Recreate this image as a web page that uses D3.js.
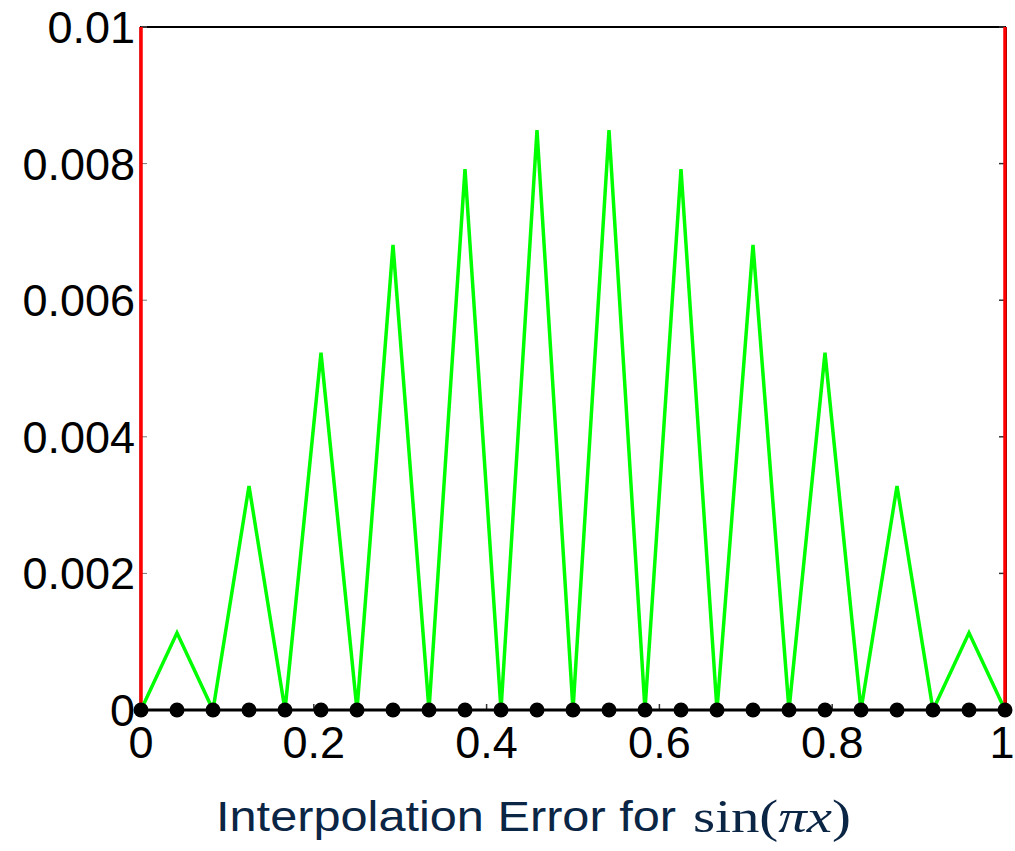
<!DOCTYPE html>
<html>
<head>
<meta charset="utf-8">
<script src="https://cdn.jsdelivr.net/npm/d3@7"></script>
<style>
  body { margin: 0; background: #fff; }
  svg { display: block; }
</style>
</head>
<body>
<script>
// nodes at k/24, error of piecewise interpolation (green), black nodes on zero line
let nodeX = d3.range(25).map((k) => k / 24);
let greenY = [0, 0.00113, 0, 0.00328, 0, 0.00523, 0, 0.00681, 0, 0.00792, 0, 0.00849, 0,
              0.00849, 0, 0.00792, 0, 0.00681, 0, 0.00523, 0, 0.00328, 0, 0.00113, 0];
// the red curve blows up right at the ends
let redX = [0, 0.0004, 0.9996, 1];
let redY = [0, 1, 1, 0];
let xTicks = [0, 0.2, 0.4, 0.6, 0.8, 1];
let xTickLabels = ["0", "0.2", "0.4", "0.6", "0.8", "1"];
let yTicks = [0, 0.002, 0.004, 0.006, 0.008, 0.01];
let yTickLabels = ["0", "0.002", "0.004", "0.006", "0.008", "0.01"];

let svg = d3.select('body').append('svg')
  .attr('width', 1015)
  .attr('height', 851);

let x = d3.scaleLinear().domain([0, 1]).range([141, 1005]);
let y = d3.scaleLinear().domain([0, 0.01]).range([710, 27]);

svg.append('clipPath').attr('id', 'plotclip')
  .append('rect')
    .attr('x', x(0) - 3).attr('y', y(0.01))
    .attr('width', x(1) - x(0) + 6).attr('height', y(0) - y(0.01) + 4);

// axes frame
svg.append('line')
  .attr('x1', x(0) - 1).attr('x2', x(0) - 1)
  .attr('y1', y(0.01)).attr('y2', y(0))
  .attr('stroke', '#777').attr('stroke-width', 1.5);
svg.append('line')
  .attr('x1', x(0) - 1).attr('x2', x(1) + 1)
  .attr('y1', y(0.01)).attr('y2', y(0.01))
  .attr('stroke', '#000').attr('stroke-width', 2);
svg.append('line')
  .attr('x1', x(1) + 1).attr('x2', x(1) + 1)
  .attr('y1', y(0.01)).attr('y2', y(0))
  .attr('stroke', '#000').attr('stroke-width', 2);

// inner ticks
svg.selectAll('.ytickr').data(yTicks).enter().append('line')
  .attr('x1', x(1) - 6).attr('x2', x(1))
  .attr('y1', (d) => y(d)).attr('y2', (d) => y(d))
  .attr('stroke', '#333').attr('stroke-width', 1.5);
svg.selectAll('.ytickl').data(yTicks).enter().append('line')
  .attr('x1', x(0)).attr('x2', x(0) + 6)
  .attr('y1', (d) => y(d)).attr('y2', (d) => y(d))
  .attr('stroke', '#777').attr('stroke-width', 1);
svg.selectAll('.xtick').data(xTicks).enter().append('line')
  .attr('x1', (d) => x(d)).attr('x2', (d) => x(d))
  .attr('y1', y(0) - 6).attr('y2', y(0))
  .attr('stroke', '#333').attr('stroke-width', 1.5);

// tick labels
svg.selectAll('.ylab').data(yTicks).enter().append('text')
  .attr('x', 135)
  .attr('y', (d) => y(d) + 16)
  .attr('text-anchor', 'end')
  .style('font-family', 'Liberation Sans, Arial, sans-serif')
  .style('font-size', '45px')
  .text((d, i) => yTickLabels[i]);
svg.selectAll('.xlab').data(xTicks).enter().append('text')
  .attr('x', (d) => Math.min(x(d), 1002))
  .attr('y', 758)
  .attr('text-anchor', 'middle')
  .style('font-family', 'Liberation Sans, Arial, sans-serif')
  .style('font-size', '45px')
  .text((d, i) => xTickLabels[i]);

// zero line through the nodes
let line = d3.line().x((d) => x(d[0])).y((d) => y(d[1]));
svg.append('path')
  .datum(nodeX.map((v) => [v, 0]))
  .attr('d', line)
  .attr('fill', 'none')
  .attr('stroke', '#000')
  .attr('stroke-width', 3);

// red curve (clipped to axes)
svg.append('path')
  .datum(redX.map((v, i) => [v, redY[i]]))
  .attr('d', line)
  .attr('clip-path', 'url(#plotclip)')
  .attr('fill', 'none')
  .attr('stroke', '#ff0000')
  .attr('stroke-width', 3.5);

// green error curve
svg.append('path')
  .datum(nodeX.map((v, i) => [v, greenY[i]]))
  .attr('d', line)
  .attr('fill', 'none')
  .attr('stroke', '#00ff00')
  .attr('stroke-width', 3.5)
  .attr('stroke-linejoin', 'miter');

// node markers
svg.selectAll('.dot').data(nodeX).enter().append('circle')
  .attr('cx', (d) => x(d))
  .attr('cy', y(0))
  .attr('r', 7.5)
  .attr('fill', '#000');

// caption: plain words then the formula
svg.append('text')
  .attr('x', 216)
  .attr('y', 831)
  .attr('textLength', 460)
  .attr('lengthAdjust', 'spacingAndGlyphs')
  .style('font-family', 'Liberation Sans, Arial, sans-serif')
  .style('font-size', '43px')
  .attr('fill', '#0b2545')
  .text('Interpolation Error for');

let formula = svg.append('text')
  .attr('x', 693)
  .attr('y', 832)
  .attr('textLength', 158)
  .attr('lengthAdjust', 'spacingAndGlyphs')
  .style('font-family', 'Liberation Serif, Times New Roman, serif')
  .style('font-size', '47px')
  .attr('fill', '#0b2545');
formula.append('tspan').text('sin(');
formula.append('tspan').style('font-style', 'italic').text('πx');
formula.append('tspan').text(')');
</script>
</body>
</html>
